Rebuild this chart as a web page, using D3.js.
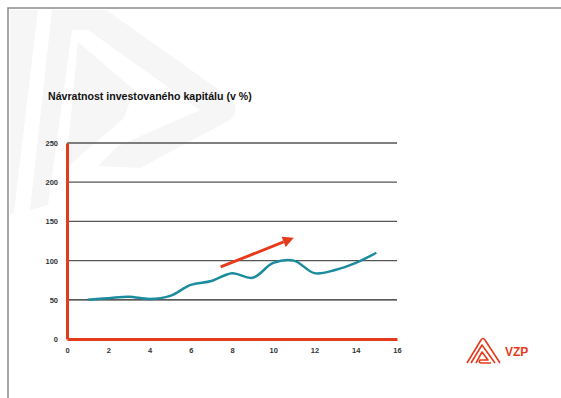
<!DOCTYPE html>
<html>
<head>
<meta charset="utf-8">
<script src="https://cdnjs.cloudflare.com/ajax/libs/d3/7.8.5/d3.min.js"></script>
<style>
  body { margin: 0; background: #fff; }
  svg { display: block; font-family: "Liberation Sans", Arial, sans-serif; }
</style>
</head>
<body>
<script>
  // data
  const xs = [1, 2, 3, 4, 5, 6, 7, 8, 9, 10, 11, 12, 13, 14, 15];
  const values = [50, 52, 54, 51, 55, 69, 74, 84, 78, 97, 100, 84, 88, 97, 110];
  const xTicks = [0, 2, 4, 6, 8, 10, 12, 14, 16];
  const yTicks = [0, 50, 100, 150, 200, 250];
  const trendArrow = [[7.45, 92], [11.0, 129]];
  const title = "Návratnost investovaného kapitálu (v %)";

  const w = 561, h = 398;
  const red = "#e63a1c";

  const svg = d3.select("body").append("svg")
    .attr("width", w)
    .attr("height", h);

  // faint watermark logo in the background
  const wm = svg.append("g").attr("fill", "#f6f6f6");
  wm.append("path").attr("d", "M10,10 L38,10 L14,212 L10,214 Z");
  wm.append("path").attr("d", "M52,10 L106,10 L228,96 Q242,108 230,120 L140,168 L98,166 L118,146 L200,110 L88,30 L72,30 L48,205 L30,210 Z");
  wm.append("path").attr("d", "M78,42 L134,90 L124,118 L66,168 Z");

  // page frame
  svg.append("path")
    .attr("d", "M8," + h + " L8,8 L" + w + ",8")
    .attr("fill", "none")
    .attr("stroke", "#8a8a8a")
    .attr("stroke-width", 1.5);

  svg.append("text")
    .attr("x", 48)
    .attr("y", 100)
    .attr("font-size", 10.6)
    .attr("font-weight", "bold")
    .attr("fill", "#111")
    .text(title);

  const xScale = d3.scaleLinear().domain([0, 16]).range([67, 397]);
  const yScale = d3.scaleLinear().domain([0, 250]).range([339, 143]);

  // gridlines
  svg.append("g")
    .selectAll("line")
    .data(yTicks.filter(d => d > 0))
    .enter()
    .append("line")
    .attr("x1", xScale(0))
    .attr("x2", xScale(16))
    .attr("y1", d => yScale(d))
    .attr("y2", d => yScale(d))
    .attr("stroke", d => d === 50 ? "#222" : "#555")
    .attr("stroke-width", 1.3);

  const xAxis = d3.axisBottom(xScale).tickValues(xTicks).tickSize(0).tickPadding(9);
  const yAxis = d3.axisLeft(yScale).tickValues(yTicks).tickSize(0).tickPadding(9);

  const gx = svg.append("g")
    .attr("transform", "translate(0," + yScale(0) + ")")
    .call(xAxis);
  const gy = svg.append("g")
    .attr("transform", "translate(" + xScale(0) + ",0)")
    .call(yAxis);

  [gx, gy].forEach(g => {
    g.select(".domain").attr("stroke", red).attr("stroke-width", 3);
    g.selectAll("text")
      .attr("font-family", "Liberation Sans, Arial, sans-serif")
      .attr("font-size", 7.5)
      .attr("font-weight", "bold")
      .attr("fill", "#333");
  });

  // series line
  const line = d3.line()
    .x((d, i) => xScale(xs[i]))
    .y(d => yScale(d))
    .curve(d3.curveCatmullRom.alpha(0.5));

  svg.append("path")
    .datum(values)
    .attr("d", line)
    .attr("fill", "none")
    .attr("stroke", "#1b8c9e")
    .attr("stroke-width", 2.5);

  // red trend arrow
  const a0 = [xScale(trendArrow[0][0]), yScale(trendArrow[0][1])];
  const a1 = [xScale(trendArrow[1][0]), yScale(trendArrow[1][1])];
  const ang = Math.atan2(a1[1] - a0[1], a1[0] - a0[0]);
  const headLen = 11, headW = 5.5;
  const base = [a1[0] - headLen * Math.cos(ang), a1[1] - headLen * Math.sin(ang)];
  svg.append("line")
    .attr("x1", a0[0]).attr("y1", a0[1])
    .attr("x2", base[0]).attr("y2", base[1])
    .attr("stroke", red)
    .attr("stroke-width", 2.8);
  svg.append("path")
    .attr("d", "M" + a1[0] + "," + a1[1] +
      " L" + (base[0] + headW * Math.sin(ang)) + "," + (base[1] - headW * Math.cos(ang)) +
      " L" + (base[0] - headW * Math.sin(ang)) + "," + (base[1] + headW * Math.cos(ang)) + " Z")
    .attr("fill", red);

  // VZP logo, bottom right
  const logo = svg.append("g").attr("fill", "none").attr("stroke", red).attr("stroke-width", 1.6)
    .attr("stroke-linejoin", "round");
  logo.append("path").attr("d", "M467,363 L481,340 Q483,337 485,340 L500,363");
  logo.append("path").attr("d", "M471,363 L482,345 L495,363");
  logo.append("path").attr("d", "M476,363 L482,352 L488,360 L480,360 Q478,363 482,363 L491,363");
  svg.append("text")
    .attr("x", 505)
    .attr("y", 356)
    .attr("font-size", 12)
    .attr("font-weight", "bold")
    .attr("fill", red)
    .text("VZP");
</script>
</body>
</html>
